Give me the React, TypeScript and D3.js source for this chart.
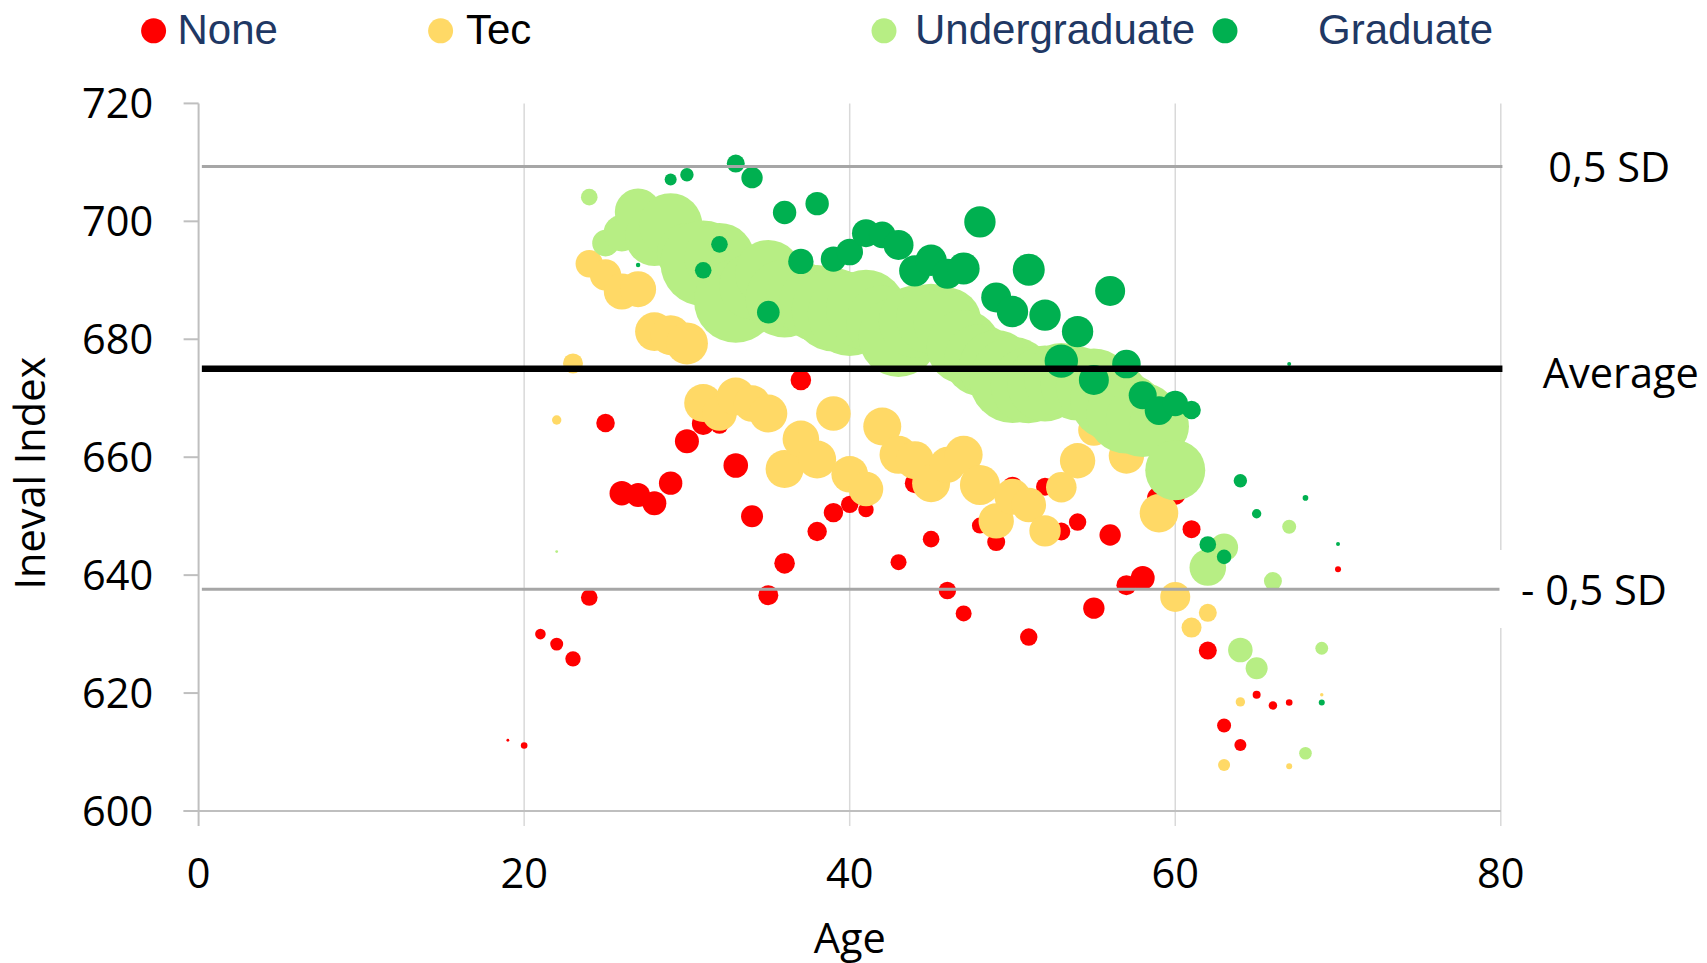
import React from 'react';
import * as d3 from 'd3';

// ---------- data (age, Ineval index, bubble size) ----------
const seriesNames = ['None', 'Tec', 'Undergraduate', 'Graduate'];

const noneAge = [19, 20, 21, 22, 23, 24, 25, 26, 27, 28, 29, 30, 31, 32, 33, 34, 35, 36, 37, 38, 39, 40, 41, 43, 44, 45, 46, 47, 48, 49, 50, 51, 52, 53, 54, 55, 56, 57, 58, 59, 60, 61, 62, 63, 64, 65, 66, 67, 70];
const noneVal = [612.0, 611.1, 630.0, 628.3, 625.8, 636.2, 665.8, 653.9, 653.6, 652.2, 655.6, 662.7, 665.7, 665.5, 658.6, 650.0, 636.6, 642.0, 673.1, 647.4, 650.6, 652.0, 651.1, 642.2, 655.6, 646.1, 637.4, 633.5, 648.4, 645.6, 655.0, 629.5, 655.0, 647.4, 649.0, 634.4, 646.8, 638.3, 639.5, 653.0, 653.6, 647.8, 627.2, 614.5, 611.2, 619.7, 617.9, 618.4, 641.0];
const noneSize = [0.2, 1.1, 2.8, 4.2, 5.9, 6.9, 8.6, 15.1, 14.4, 14.4, 13.7, 14.4, 12.8, 8.1, 15.1, 12.1, 10, 10.6, 10.6, 9.4, 9.4, 7.6, 5.9, 6.4, 10, 6.9, 7.6, 6.4, 6.4, 8.1, 10, 7.6, 8.1, 8.1, 7.6, 11.4, 11.4, 10, 14.4, 14.4, 10, 8.1, 8.1, 4.9, 3.6, 1.6, 1.8, 1.1, 0.9];

const tecAge = [22, 23, 24, 25, 26, 27, 28, 29, 30, 31, 32, 33, 34, 35, 36, 37, 38, 39, 40, 41, 42, 43, 44, 45, 46, 47, 48, 49, 50, 51, 52, 53, 54, 55, 57, 59, 60, 61, 62, 63, 64, 67, 69];
const tecVal = [666.3, 675.9, 692.8, 690.9, 688.1, 688.5, 681.3, 680.7, 679.3, 669.2, 667.4, 670.3, 669.1, 667.4, 658.0, 663.1, 659.6, 667.4, 657.1, 654.6, 665.2, 660.4, 659.5, 655.6, 658.7, 660.4, 655.3, 649.2, 653.3, 651.9, 647.5, 654.9, 659.4, 664.6, 660.2, 650.5, 636.3, 631.1, 633.6, 607.8, 618.5, 607.6, 619.7];
const tecSize = [2.2, 10, 18.8, 24.6, 32.4, 32.4, 37.2, 40, 44.1, 36.1, 29.9, 36.1, 33.5, 36.1, 36.1, 33.5, 36.1, 29.9, 33.5, 29.9, 36.1, 36.1, 36.1, 36.1, 32.4, 36.1, 40, 31.3, 32.4, 29.9, 24.6, 23.4, 31.3, 24.6, 31.3, 37.2, 22.5, 10, 8.1, 3.6, 2.2, 0.9, 0.3];

const ugAge = [22, 24, 25, 26, 27, 28, 29, 30, 31, 32, 33, 34, 35, 36, 37, 38, 39, 40, 41, 42, 43, 44, 45, 46, 47, 48, 49, 50, 51, 52, 53, 54, 55, 56, 57, 58, 59, 60, 62, 63, 64, 65, 66, 67, 68, 69];
const ugVal = [644.0, 704.1, 696.3, 698.0, 701.6, 697.4, 699.4, 694.6, 692.9, 693.8, 686.5, 689.0, 691.2, 686.9, 687.2, 686.1, 685.0, 684.3, 685.0, 683.0, 680.4, 683.0, 683.5, 683.0, 678.7, 676.5, 675.3, 673.1, 672.2, 672.5, 673.1, 672.5, 672.0, 669.7, 667.4, 666.3, 665.2, 657.8, 641.3, 644.7, 627.3, 624.2, 639.0, 648.2, 609.8, 627.6];
const ugSize = [0.2, 6.9, 17.7, 33.5, 54.3, 85.8, 100.5, 90, 182.3, 122.5, 173.9, 108.9, 110.9, 152.1, 122.5, 146.7, 173.9, 176.4, 160, 129.6, 160, 129.6, 122.5, 115.6, 136.9, 129.6, 136.9, 184.9, 144.4, 144.4, 136.9, 136.9, 144.4, 160, 160, 136.9, 90, 90, 33.5, 19.6, 15.1, 12.1, 8.1, 4.9, 4.0, 4.1];

const gradAge = [27, 29, 30, 31, 32, 33, 34, 35, 36, 37, 38, 39, 40, 41, 42, 43, 44, 45, 46, 47, 48, 49, 50, 51, 52, 53, 54, 55, 56, 57, 58, 59, 60, 61, 62, 63, 64, 65, 67, 68, 69, 70];
const gradVal = [692.6, 707.1, 707.9, 691.7, 696.1, 709.8, 707.4, 684.6, 701.5, 693.2, 703.0, 693.6, 694.8, 698.0, 697.7, 696.0, 691.6, 693.4, 691.1, 692.0, 699.9, 687.1, 684.7, 691.8, 684.1, 676.3, 681.3, 673.1, 688.2, 675.8, 670.5, 667.9, 669.1, 668.0, 645.2, 643.1, 656.0, 650.4, 675.8, 653.1, 618.4, 645.3];
const gradSize = [0.5, 3.6, 4.5, 6.9, 6.9, 8.1, 11.4, 12.8, 13.7, 16.1, 13.7, 16.1, 17.7, 19.6, 17.7, 22.5, 24.6, 24.6, 22.5, 25.6, 24.6, 22.5, 24.6, 25.6, 24.6, 27.9, 24.6, 22.5, 22.5, 20.4, 19.6, 20.4, 16.1, 8.6, 6.9, 5.3, 4.5, 2.2, 0.4, 0.8, 0.9, 0.4];

const refLabels = ['0,5 SD', 'Average', '- 0,5 SD'];
const refValues = [709.3, 675.0, 637.6];

const xTicks = [0, 20, 40, 60, 80];
const yTicks = [600, 620, 640, 660, 680, 700, 720];

// ---------- styling ----------
const COLORS = ['#FF0000', '#FFD966', '#B7EE84', '#00B050'];
const LEGEND_TEXT = ['#1F3864', '#000000', '#1F3864', '#1F3864'];
const FONT = "'Open Sans', 'DejaVu Sans', sans-serif";
const LEGEND_FONT = "'Liberation Sans', Arial, sans-serif";

export default function App() {
  const W = 1707;
  const H = 963;
  const x = d3.scaleLinear().domain([0, 80]).range([198.6, 1500.8]);
  const y = d3.scaleLinear().domain([600, 720]).range([811, 103.4]);
  const r = d3.scaleSqrt().domain([0, 200]).range([0, 44.72]);

  const series = [
    { ages: noneAge, vals: noneVal, sizes: noneSize },
    { ages: tecAge, vals: tecVal, sizes: tecSize },
    { ages: ugAge, vals: ugVal, sizes: ugSize },
    { ages: gradAge, vals: gradVal, sizes: gradSize },
  ];

  const legendMarkerX = [153.6, 440.6, 884, 1225];
  const legendTextX = [177.5, 466, 915, 1318];

  const refStyles = [
    { stroke: '#A6A6A6', width: 3 },
    { stroke: '#000000', width: 6.5 },
    { stroke: '#A6A6A6', width: 3 },
  ];
  const refLabelPos = [
    { x: 1548.3, y: 181.7 },
    { x: 1542.7, y: 388.3 },
    { x: 1521, y: 605 },
  ];

  const [y0, y1] = y.range();

  return (
    <svg
      width={W}
      height={H}
      style={{ position: 'absolute', left: 0, top: 0, background: '#fff' }}
      xmlns="http://www.w3.org/2000/svg"
    >
      <rect x={0} y={0} width={W} height={H} fill="#fff" />

      {/* vertical gridlines with outside ticks */}
      {xTicks.slice(1).map((t) => (
        <line key={'g' + t} x1={x(t)} x2={x(t)} y1={y1} y2={y0 + 15} stroke="#D9D9D9" strokeWidth={1.5} />
      ))}
      {/* y axis */}
      <line x1={x(0)} x2={x(0)} y1={y1} y2={y0 + 15} stroke="#BFBFBF" strokeWidth={2} />
      {yTicks.map((t) => (
        <line key={'yt' + t} x1={x(0) - 15} x2={x(0)} y1={y(t)} y2={y(t)} stroke="#BFBFBF" strokeWidth={2} />
      ))}
      {/* x axis */}
      <line x1={x(0) - 15} x2={x(80)} y1={y0} y2={y0} stroke="#BFBFBF" strokeWidth={2} />

      {/* bubbles */}
      {series.map((s, si) => (
        <g key={'s' + si} fill={COLORS[si]}>
          {s.ages.map((a, i) => (
            <circle key={i} cx={x(a)} cy={y(s.vals[i])} r={r(s.sizes[i])} />
          ))}
        </g>
      ))}

      {/* reference lines */}
      {refValues.map((v, i) => (
        <line
          key={'ref' + i}
          x1={x(0.2)}
          x2={x(80.1)}
          y1={y(v)}
          y2={y(v)}
          stroke={refStyles[i].stroke}
          strokeWidth={refStyles[i].width}
        />
      ))}

      {/* white box behind lower label */}
      <rect x={1499.5} y={550} width={195} height={78} fill="#fff" />

      {refLabels.map((l, i) => (
        <text
          key={'rl' + i}
          x={refLabelPos[i].x}
          y={refLabelPos[i].y}
          fontFamily={FONT}
          fontSize={41.5}
          fill="#000"
        >
          {l}
        </text>
      ))}

      {/* tick labels */}
      {yTicks.map((t) => (
        <text
          key={'yl' + t}
          x={153.3}
          y={y(t)}
          dy="0.36em"
          textAnchor="end"
          fontFamily={FONT}
          fontSize={41.5}
          fill="#000"
        >
          {t}
        </text>
      ))}
      {xTicks.map((t) => (
        <text
          key={'xl' + t}
          x={x(t)}
          y={888}
          textAnchor="middle"
          fontFamily={FONT}
          fontSize={41.5}
          fill="#000"
        >
          {t}
        </text>
      ))}

      {/* axis titles */}
      <text x={x(40)} y={952.5} textAnchor="middle" fontFamily={FONT} fontSize={41.5} fill="#000">
        Age
      </text>
      <text
        transform={`translate(45, ${(y0 + y1) / 2 + 16}) rotate(-90)`}
        textAnchor="middle"
        fontFamily={FONT}
        fontSize={41.5}
        fill="#000"
      >
        Ineval Index
      </text>

      {/* legend */}
      {seriesNames.map((n, i) => (
        <g key={'lg' + i}>
          <circle cx={legendMarkerX[i]} cy={30.8} r={12.5} fill={COLORS[i]} />
          <text x={legendTextX[i]} y={44.3} fontFamily={LEGEND_FONT} fontSize={42} fill={LEGEND_TEXT[i]}>
            {n}
          </text>
        </g>
      ))}
    </svg>
  );
}
